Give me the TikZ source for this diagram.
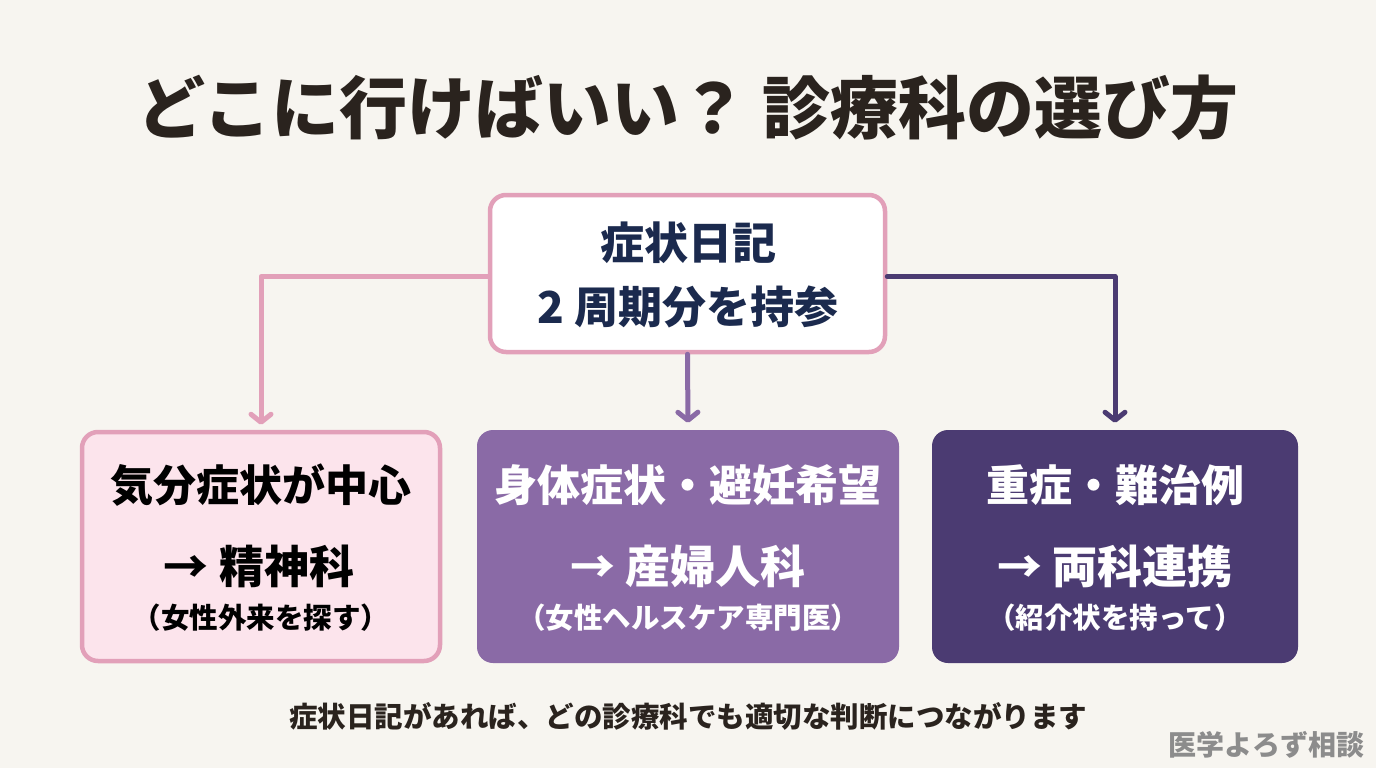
\documentclass[tikz,border=0pt]{standalone}
\usepackage{fontspec}
\setmainfont{Noto Sans CJK JP}
\usetikzlibrary{arrows.meta}
\definecolor{bgc}{HTML}{F7F5F0}
\definecolor{titlec}{HTML}{2A231E}
\definecolor{navy}{HTML}{1B2A4E}
\definecolor{pinkb}{HTML}{E2A0B9}
\definecolor{pinkf}{HTML}{FCE4EC}
\definecolor{midp}{HTML}{8A6AA6}
\definecolor{darkp}{HTML}{4B3B72}
\definecolor{graytxt}{HTML}{8C8C8C}
\tikzset{
  box/.style={rounded corners=16pt, line width=4.5pt, inner sep=0pt},
  conn/.style={line width=5pt, line cap=round, line join=round,
    -{Straight Barb[length=8pt,width=20pt,line cap=round,line join=round]}, shorten >=5pt},
  big/.style={font=\bfseries\fontsize{43}{47}\selectfont},
  arr/.style={font=\bfseries\fontsize{45}{49}\selectfont},
  small/.style={font=\bfseries\fontsize{28.5}{32}\selectfont},
}
\begin{document}
\begin{tikzpicture}[x=1pt,y=-1pt]
\fill[bgc] (0,0) rectangle (1376,768);
\useasboundingbox (0,0) rectangle (1376,768);
\node[font=\bfseries\fontsize{68}{74}\selectfont, text=titlec] (title) at (688,108) {どこに行けばいい？ 診療科の選び方};
% top box
\node[box, draw=pinkb, fill=white, minimum width=395pt, minimum height=157pt] (T) at (687.5,273.5) {};
\node[font=\bfseries\fontsize{44}{48}\selectfont, text=navy] (T1) at (688,243) {症状日記};
\node[font=\bfseries\fontsize{44}{48}\selectfont, text=navy] (T2) at (688,307) {2 周期分を持参};
% three boxes
\node[box, draw=pinkb, fill=pinkf, minimum width=358pt, minimum height=229pt] (L) at (261,546.5) {};
\node[box, fill=midp, minimum width=422pt, minimum height=233pt] (M) at (688,546.5) {};
\node[box, fill=darkp, minimum width=366pt, minimum height=233pt] (R) at (1115,546.5) {};
% left texts
\node[big, text=black] (L1) at (261,485) {気分症状が中心};
\node[arr, text=black] (L2) at (259,566) {→ 精神科};
\node[small, text=black] (L3) at (261,618) {（女性外来を探す）};
% mid texts
\node[big, text=white] (M1) at (688,485) {身体症状・避妊希望};
\node[arr, text=white] (M2) at (688,566) {→ 産婦人科};
\node[small, text=white] (M3) at (688,618) {（女性ヘルスケア専門医）};
% right texts
\node[big, text=white] (R1) at (1115,485) {重症・難治例};
\node[arr, text=white] (R2) at (1115,566) {→ 両科連携};
\node[small, text=white] (R3) at (1115,618) {（紹介状を持って）};
% connectors
\draw[conn, pinkb] ([yshift=-3pt]T.west) -| (L.north);
\draw[conn, midp] (T.south) -- (M.north);
\draw[conn, darkp] ([yshift=-3pt]T.east) -| (R.north);
% footer
\node[font=\bfseries\fontsize{28.5}{32}\selectfont, text=titlec] (foot) at (688,716) {症状日記があれば、どの診療科でも適切な判断につながります};
\node[font=\bfseries\fontsize{28}{32}\selectfont, text=graytxt] (wm) at (1266,745) {医学よろず相談};
\end{tikzpicture}
\end{document}
